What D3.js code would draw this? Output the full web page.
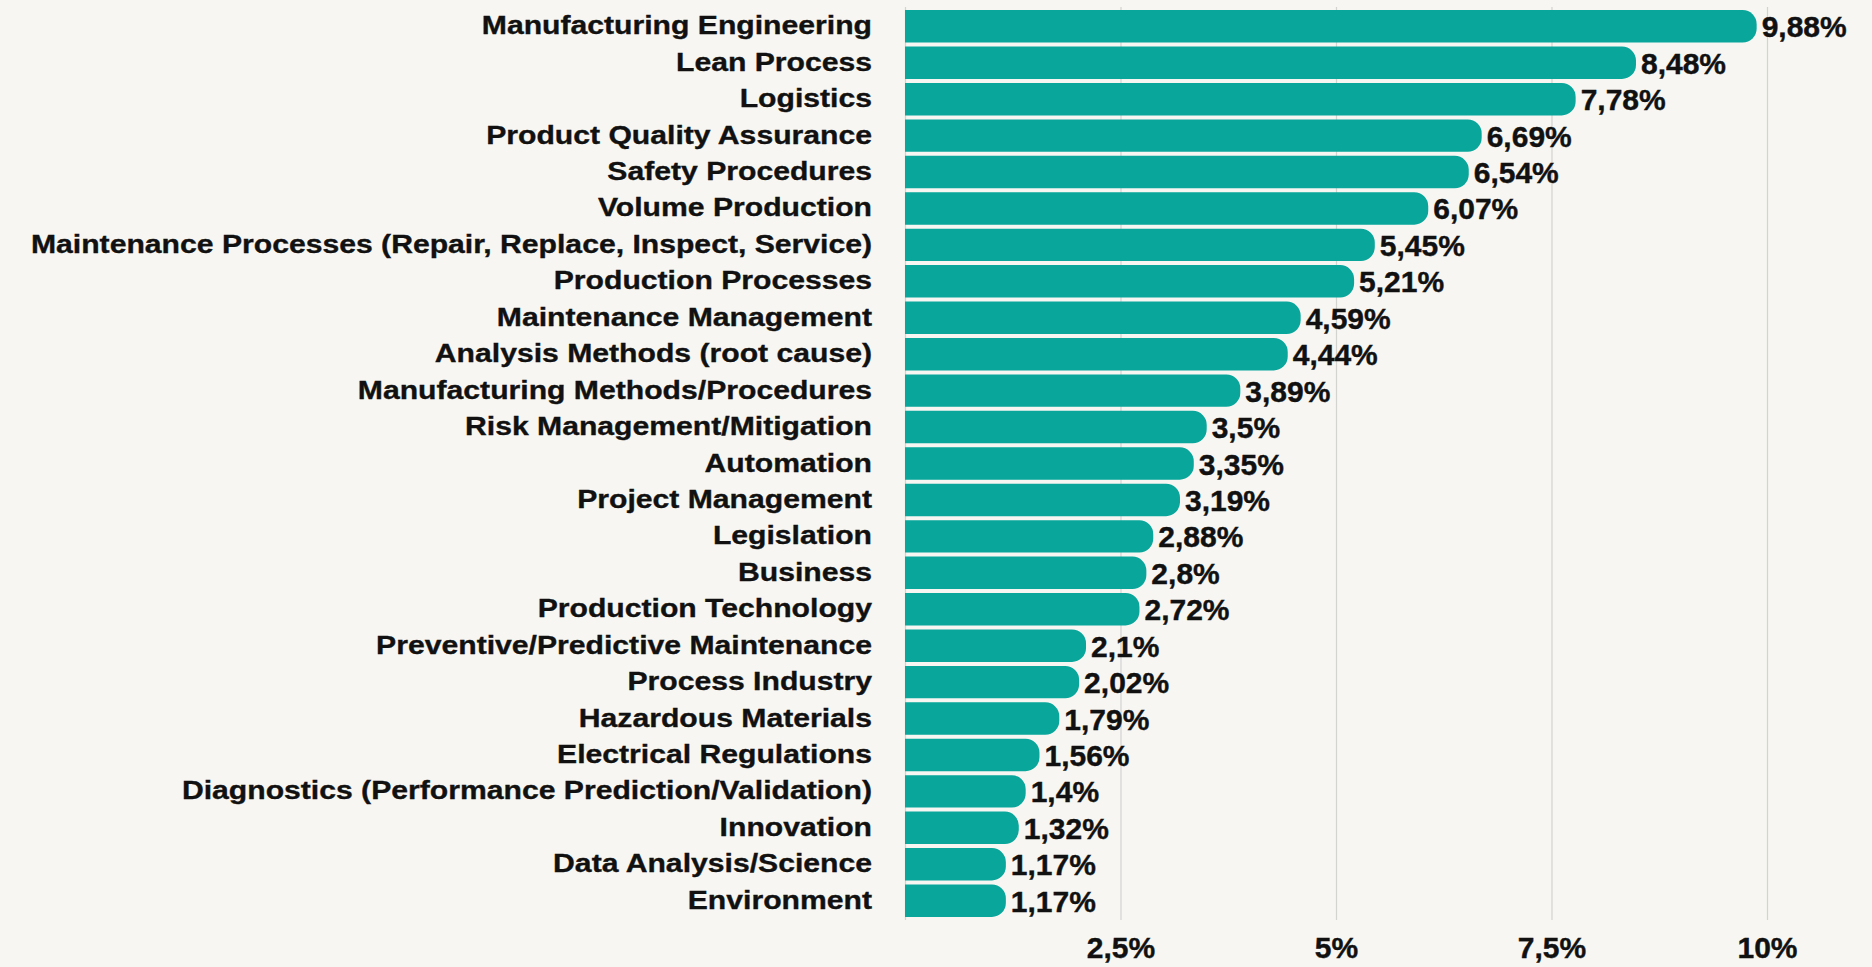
<!DOCTYPE html>
<html>
<head>
<meta charset="utf-8">
<script src="https://cdn.jsdelivr.net/npm/d3@7"></script>
<style>
  html, body { margin: 0; padding: 0; background: #f7f6f2; }
  svg { display: block; }
  text { font-family: "Liberation Sans", Arial, Helvetica, sans-serif; font-weight: bold; fill: #111; }
</style>
</head>
<body>
<svg id="chart" width="1872" height="967"></svg>
<script>
// categories and shares (percent), top to bottom
var categories = [
    "Manufacturing Engineering", "Lean Process", "Logistics", "Product Quality Assurance",
    "Safety Procedures", "Volume Production", "Maintenance Processes (Repair, Replace, Inspect, Service)",
    "Production Processes", "Maintenance Management", "Analysis Methods (root cause)",
    "Manufacturing Methods/Procedures", "Risk Management/Mitigation", "Automation",
    "Project Management", "Legislation", "Business", "Production Technology",
    "Preventive/Predictive Maintenance", "Process Industry", "Hazardous Materials",
    "Electrical Regulations", "Diagnostics (Performance Prediction/Validation)", "Innovation",
    "Data Analysis/Science", "Environment"
];
var values = [9.88, 8.48, 7.78, 6.69, 6.54, 6.07, 5.45, 5.21, 4.59, 4.44, 3.89, 3.5, 3.35,
    3.19, 2.88, 2.8, 2.72, 2.1, 2.02, 1.79, 1.56, 1.4, 1.32, 1.17, 1.17];
var tickValues = [2.5, 5, 7.5, 10];
var tickLabels = ["2,5%", "5%", "7,5%", "10%"];

var data = categories.map(function (c, i) { return { name: c, value: values[i] }; });

var svg = d3.select("#chart");
var barColor = "#08a69b";

var x = d3.scaleLinear().domain([0, 10]).range([905, 1767]);
var y = d3.scaleBand()
    .domain(categories)
    .range([9, 918])
    .paddingInner(0.11)
    .paddingOuter(0.03);

// gridlines
svg.append("g")
    .selectAll("line")
    .data([0].concat(tickValues))
    .join("line")
    .attr("x1", d => x(d) + 0.5)
    .attr("x2", d => x(d) + 0.5)
    .attr("y1", 7)
    .attr("y2", 920)
    .attr("stroke", "#d3d3d0")
    .attr("stroke-width", 1.2);

// bars with rounded right end
var bh = y.bandwidth();
var r = Math.min(14, bh / 2);
function barPath(d) {
    var x0 = x(0), x1 = x(d.value), y0 = y(d.name), y1 = y0 + bh;
    return "M" + x0 + "," + y0 +
        "H" + (x1 - r) +
        "A" + r + "," + r + " 0 0 1 " + x1 + "," + (y0 + r) +
        "V" + (y1 - r) +
        "A" + r + "," + r + " 0 0 1 " + (x1 - r) + "," + y1 +
        "H" + x0 + "Z";
}
svg.append("g")
    .selectAll("path")
    .data(data)
    .join("path")
    .attr("d", barPath)
    .attr("fill", barColor);

// value labels
svg.append("g")
    .selectAll("text")
    .data(data)
    .join("text")
    .attr("x", d => x(d.value) + 5)
    .attr("y", d => y(d.name) + bh / 2 + 11)
    .attr("font-size", 30)
    .attr("stroke", "#111")
    .attr("stroke-width", 0.4)
    .text(d => String(d.value).replace(".", ",") + "%");

// category labels (wide grotesk look, stretched horizontally)
svg.append("g")
    .selectAll("text")
    .data(data)
    .join("text")
    .attr("transform", d => "translate(872," + (y(d.name) + bh / 2 + 8) + ") scale(1.16,1)")
    .attr("text-anchor", "end")
    .attr("font-size", 26)
    .attr("stroke", "#111")
    .attr("stroke-width", 0.35)
    .text(d => d.name);

// x axis tick labels
var xAxis = d3.axisBottom(x)
    .tickValues(tickValues)
    .tickFormat((d, i) => tickLabels[i])
    .tickSize(0)
    .tickPadding(0);
var ax = svg.append("g")
    .attr("transform", "translate(0,937)")
    .call(xAxis);
ax.select(".domain").remove();
ax.selectAll("text")
    .attr("font-size", 30)
    .attr("font-family", null)
    .attr("fill", "#111")
    .attr("stroke", "#111")
    .attr("stroke-width", 0.4)
    .attr("dy", 21);
</script>
</body>
</html>
